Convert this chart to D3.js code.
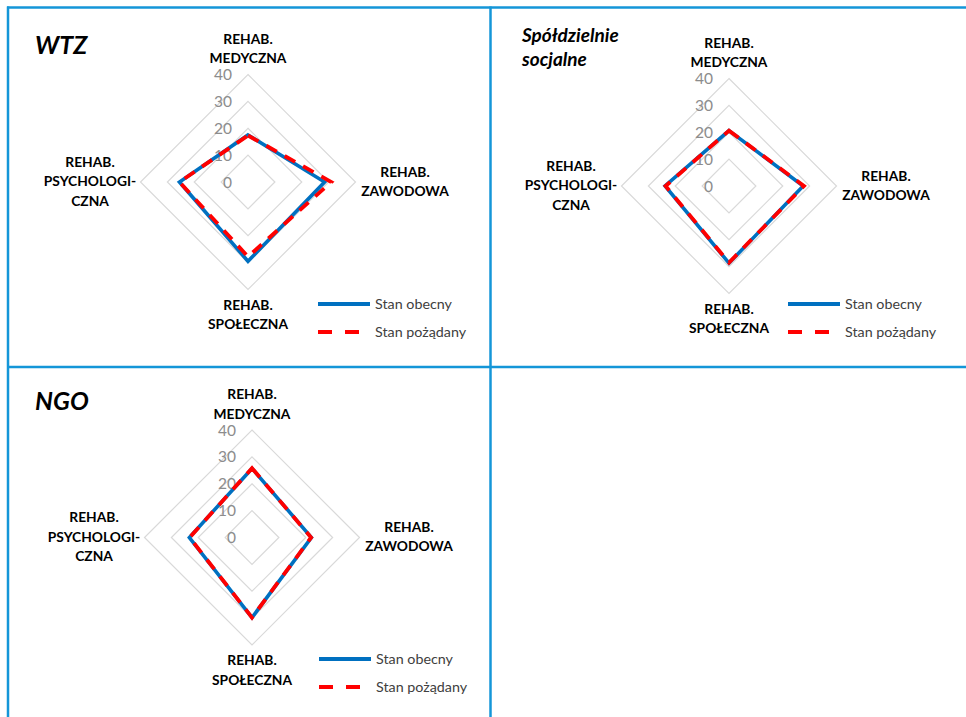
<!DOCTYPE html>
<html>
<head>
<meta charset="utf-8">
<script src="https://cdn.jsdelivr.net/npm/d3@7"></script>
<style>
  html, body { margin: 0; padding: 0; background: #fff; }
  svg { display: block; }
  text { font-family: Lato, "Open Sans", sans-serif; }
</style>
</head>
<body>
<svg id="chart" width="966" height="717"></svg>
<script>
// Rehabilitation areas (axes of each radar), clockwise from the top
const categories = [
  ["REHAB.", "MEDYCZNA"],
  ["REHAB.", "ZAWODOWA"],
  ["REHAB.", "SPOŁECZNA"],
  ["REHAB.", "PSYCHOLOGI-", "CZNA"]
];
const tickValues = [0, 10, 20, 30, 40];
const seriesNames = ["Stan obecny", "Stan pożądany"];

// Values per organisation type: current vs. desired state
const wtzObecny   = [17.5, 28.5, 29.5, 25.5];
const wtzPozadany = [17.3, 31.0, 27.8, 25.5];
const spoldzObecny   = [20.6, 27.6, 28.7, 23.8];
const spoldzPozadany = [20.6, 27.9, 28.5, 23.6];
const ngoObecny   = [25.7, 22.1, 29.8, 23.3];
const ngoPozadany = [25.8, 22.0, 29.8, 23.2];

const panelTitles = [["WTZ"], ["Spółdzielnie", "socjalne"], ["NGO"]];

const panels = [
  { title: panelTitles[0], obecny: wtzObecny, pozadany: wtzPozadany,
    cx: 248, cy: 182, titleX: 35, titleY: 54, titleSize: 25, legendX: 318, legendY: 304 },
  { title: panelTitles[1], obecny: spoldzObecny, pozadany: spoldzPozadany,
    cx: 729, cy: 186, titleX: 522, titleY: 42, titleSize: 19, legendX: 788, legendY: 304 },
  { title: panelTitles[2], obecny: ngoObecny, pozadany: ngoPozadany,
    cx: 252, cy: 537.5, titleX: 35, titleY: 410, titleSize: 25, legendX: 319, legendY: 659 }
];

const svg = d3.select("#chart");
const frameColor = "#1496d8";
const blue = "#0070C0";
const red = "#FF0000";

// Panel frame lines
const frame = svg.append("g").attr("stroke", frameColor).attr("stroke-width", 2.5);
frame.append("line").attr("x1", 7).attr("x2", 966).attr("y1", 7.5).attr("y2", 7.5);
frame.append("line").attr("x1", 8).attr("x2", 8).attr("y1", 6.5).attr("y2", 717);
frame.append("line").attr("x1", 490.5).attr("x2", 490.5).attr("y1", 6.5).attr("y2", 717);
frame.append("line").attr("x1", 7).attr("x2", 966).attr("y1", 367).attr("y2", 367);

const r = d3.scaleLinear().domain([0, 40]).range([0, 107.5]);
const angle = d3.scalePoint()
  .domain(d3.range(categories.length + 1))
  .range([0, 2 * Math.PI]);

const radial = d3.lineRadial()
  .angle((d, i) => angle(i))
  .radius(d => r(d))
  .curve(d3.curveLinearClosed);

// Category label placement around the radar
const labelPlacement = [
  { dx: 0,    lines: [-138.5, -119] },
  { dx: 157,  lines: [-5.5, 13.5] },
  { dx: 0,    lines: [127.5, 147] },
  { dx: -158, lines: [-15.3, 4.2, 23.5] }
];

panels.forEach(p => {
  const g = svg.append("g");

  // Title
  const t = g.append("text")
    .attr("x", p.titleX)
    .attr("font-size", p.titleSize)
    .attr("font-weight", 700)
    .attr("font-style", "italic")
    .attr("fill", "#000");
  p.title.forEach((line, i) => {
    t.append("tspan").attr("x", p.titleX)
      .attr("y", p.titleY + i * 23.5).text(line);
  });

  const chart = g.append("g").attr("transform", `translate(${p.cx},${p.cy})`);

  // Grid rings
  tickValues.filter(v => v > 0).forEach(v => {
    chart.append("path")
      .attr("d", radial(categories.map(() => v)))
      .attr("fill", "none")
      .attr("stroke", "#d9d9d9")
      .attr("stroke-width", 1.2);
  });

  // Tick labels
  chart.selectAll("text.tick")
    .data(tickValues)
    .join("text")
    .attr("class", "tick")
    .attr("x", -16)
    .attr("y", d => -r(d) + 5.5)
    .attr("text-anchor", "end")
    .attr("font-size", 15.5)
    .attr("fill", "#8c8c8c")
    .text(d => d);

  // Series
  chart.append("path")
    .attr("d", radial(p.obecny))
    .attr("fill", "none")
    .attr("stroke", blue)
    .attr("stroke-width", 3.6)
    .attr("stroke-linejoin", "miter");
  chart.append("path")
    .attr("d", radial(p.pozadany))
    .attr("fill", "none")
    .attr("stroke", red)
    .attr("stroke-width", 3.8)
    .attr("stroke-dasharray", "12,9")
    .attr("stroke-linejoin", "miter");

  // Category labels
  categories.forEach((cat, i) => {
    const pl = labelPlacement[i];
    const txt = chart.append("text")
      .attr("text-anchor", "middle")
      .attr("font-size", 13.8)
      .attr("font-weight", 700)
      .attr("fill", "#000");
    cat.forEach((line, j) => {
      txt.append("tspan").attr("x", pl.dx).attr("y", pl.lines[j]).text(line);
    });
  });

  // Legend
  const lg = g.append("g").attr("transform", `translate(${p.legendX},${p.legendY})`);
  lg.append("line").attr("x1", 0).attr("x2", 52).attr("y1", 0).attr("y2", 0)
    .attr("stroke", blue).attr("stroke-width", 3.8);
  lg.append("line").attr("x1", 0).attr("x2", 52).attr("y1", 28).attr("y2", 28)
    .attr("stroke", red).attr("stroke-width", 3.8).attr("stroke-dasharray", "14,13");
  seriesNames.forEach((name, i) => {
    lg.append("text")
      .attr("x", 57)
      .attr("y", i * 28 + 5)
      .attr("font-size", 14.3)
      .attr("fill", "#404040")
      .text(name);
  });
});
</script>
</body>
</html>
